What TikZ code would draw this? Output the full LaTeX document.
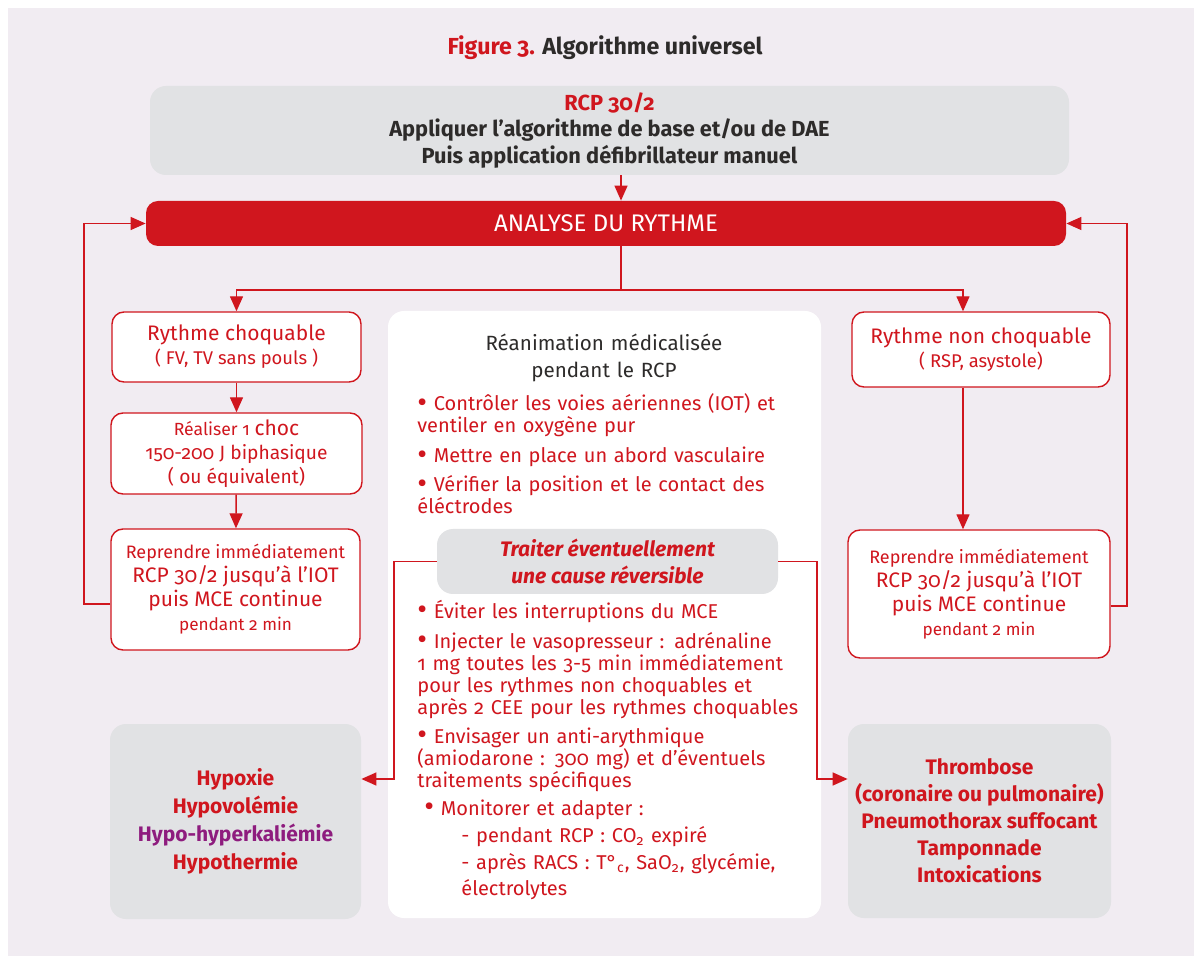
\documentclass[tikz,border=0pt]{standalone}
\usepackage{fontspec}
\setmainfont{Fira Sans}[Numbers=OldStyle]
\definecolor{rcpred}{RGB}{208, 22, 30}
\definecolor{boxgrey}{RGB}{225, 226, 228}
\definecolor{bglav}{RGB}{241, 236, 242}
\definecolor{inkdark}{RGB}{45, 43, 42}
\definecolor{kalpurple}{RGB}{142, 28, 126}
\usepackage{tikz}
\usetikzlibrary{shapes, arrows.meta, positioning, calc}
\newcommand{\rdot}{{\fontsize{15}{11}\selectfont\raisebox{-0.6pt}{•}}}

\tikzset{
  redbox/.style={draw=rcpred, line width=0.7pt, fill=white, rounded corners=6pt, align=center, text=rcpred, inner sep=0pt},
  greybox/.style={fill=boxgrey, rounded corners=8pt, align=center, inner sep=0pt},
  flow/.style={draw=rcpred, line width=0.7pt, -{Triangle[length=7.5pt, width=6.5pt]}},
  link/.style={draw=rcpred, line width=0.7pt},
  bulletpar/.style={anchor=base west, inner sep=0pt, text width=215pt, align=left, text=rcpred, font=\fontsize{10}{11}\selectfont},
}

\begin{document}
\begin{tikzpicture}[x=0.5pt, y=-0.5pt]
  \fill[white] (0,0) rectangle (1194,956);
  \fill[bglav] (8,8) rectangle (1194,956);

  \node (title) at (605,48) {\fontsize{11.6}{13}\selectfont\bfseries\textcolor{rcpred}{Figure 3.} \textcolor{inkdark}{Algorithme universel}};

  \node[greybox, minimum width=459.5pt, minimum height=44.5pt, font=\fontsize{10.9}{13.2}\selectfont\bfseries, text=inkdark] (base) at (609.5,130.5)
    {\textcolor{rcpred}{RCP 30/2}\\Appliquer l’algorithme de base et/ou de DAE\\Puis application défibrillateur manuel};

  \node[fill=rcpred, rounded corners=6pt, inner sep=0pt, minimum width=460pt, minimum height=22.5pt, text=white, font=\fontsize{12}{13}\selectfont] (analyse) at (606,223.5) {ANALYSE DU RYTHME};

  % branches
  \node[redbox, minimum width=124.5pt, minimum height=35pt] (choq) at (236.5,347)
    {\fontsize{10.5}{11}\selectfont Rythme choquable\\\fontsize{9.2}{11}\selectfont ( FV, TV sans pouls )};
  \node[redbox, minimum width=125.5pt, minimum height=40.5pt] (choc) at (236.5,453.5)
    {\fontsize{8.8}{11.5}\selectfont Réaliser 1 \fontsize{10.5}{11.5}\selectfont choc\\\fontsize{9.6}{11.5}\selectfont 150-200 J biphasique\\\fontsize{9.6}{11.5}\selectfont ( ou équivalent)};
  \node[redbox, minimum width=124.5pt, minimum height=60.5pt] (reprL) at (235.5,589.5)
    {\fontsize{9}{12.5}\selectfont Reprendre immédiatement\\\fontsize{10.5}{13}\selectfont RCP 30/2 jusqu’à l’IOT\\\fontsize{10.5}{13}\selectfont puis MCE continue\\\fontsize{8.6}{12}\selectfont pendant 2 min};

  \node[redbox, minimum width=129pt, minimum height=37.5pt] (nonchoq) at (981,349.5)
    {\fontsize{10.5}{11.5}\selectfont Rythme non choquable\\\fontsize{9.2}{11.5}\selectfont ( RSP, asystole)};
  \node[redbox, minimum width=131pt, minimum height=64pt] (reprR) at (979,594)
    {\fontsize{9}{12.5}\selectfont Reprendre immédiatement\\\fontsize{10.5}{13}\selectfont RCP 30/2 jusqu’à l’IOT\\\fontsize{10.5}{13}\selectfont puis MCE continue\\\fontsize{8.6}{12}\selectfont pendant 2 min};

  % medicalised resuscitation
  \node[fill=white, rounded corners=8pt, minimum width=216.5pt, minimum height=303.5pt, inner sep=0pt] (medic) at (604.5,614.5) {};
  \node[anchor=base, inner sep=0pt, align=center, text width=200pt, text=inkdark, font=\fontsize{10.3}{13.5}\selectfont] (medtitle) at (604,351)
    {Réanimation médicalisée\\pendant le RCP};
  \node[bulletpar] (airway) at (417,411) {\rdot{} Contrôler les voies aériennes (IOT) et\\ventiler en oxygène pur};
  \node[bulletpar] (access) at (417,463) {\rdot{} Mettre en place un abord vasculaire};
  \node[bulletpar] (electr) at (417,492) {\rdot{} Vérifier la position et le contact des\\éléctrodes};
  \node[bulletpar] (nopause) at (417,618) {\rdot{} Éviter les interruptions du MCE};
  \node[bulletpar] (adren) at (417,648) {\rdot{} Injecter le vasopresseur : adrénaline\\1 mg toutes les 3-5 min immédiatement\\pour les rythmes non choquables et\\après 2 CEE pour les rythmes choquables};
  \node[bulletpar] (amio) at (417,743) {\rdot{} Envisager un anti-arythmique\\(amiodarone : 300 mg) et d’éventuels\\traitements spécifiques};
  \node[bulletpar] (monit) at (424,815) {\rdot{} Monitorer et adapter :};
  \node[bulletpar, font=\fontsize{10}{13}\selectfont] (during) at (461,842) {- pendant RCP : CO\textsubscript{2} expiré};
  \node[bulletpar, font=\fontsize{10}{13}\selectfont] (after) at (461,869) {- après RACS : T°\textsubscript{c}, SaO\textsubscript{2}, glycémie,\\électrolytes};

  \node[greybox, minimum width=170.5pt, minimum height=32.5pt, text=rcpred, font=\fontsize{10.5}{13.5}\selectfont\bfseries\itshape] (cause) at (607.5,561.5)
    {Traiter éventuellement\\une cause réversible};

  % reversible causes
  \node[greybox, minimum width=125.5pt, minimum height=97.5pt, text=rcpred, font=\fontsize{10.5}{14}\selectfont\bfseries] (hypo) at (235.5,821.5)
    {Hypoxie\\Hypovolémie\\\textcolor{kalpurple}{Hypo-hyperkaliémie}\\Hypothermie};
  \node[greybox, minimum width=131.5pt, minimum height=97pt, text=rcpred, font=\fontsize{10.5}{13.5}\selectfont\bfseries] (thrombo) at (979.5,821)
    {Thrombose\\(coronaire ou pulmonaire)\\Pneumothorax suffocant\\Tamponnade\\Intoxications};

  % connectors
  \coordinate (split) at (621,290);
  \coordinate (nc) at (963,0);
  \coordinate (fbL) at (84,604);
  \coordinate (fbR) at (1127,606);
  \coordinate (cl) at (394,779);
  \coordinate (cr) at (817,779);
  \draw[flow] (base.south -| split) -- (analyse.north -| split);
  \draw[link] (analyse.south -| split) -- (split);
  \draw[flow] (split) -| (choq.north);
  \draw[flow] (split) -| (nonchoq.north -| nc);
  \draw[flow] (choq) -- (choc);
  \draw[flow] (choc) -- (reprL);
  \draw[flow] (nonchoq.south -| nc) -- (reprR.north -| nc);
  \draw[flow] (reprL.west |- fbL) -- (fbL) |- (analyse.west);
  \draw[flow] (reprR.east |- fbR) -- (fbR) |- (analyse.east);
  \draw[flow] (cause.west) -| (cl) -- (hypo.east |- cl);
  \draw[flow] (cause.east) -| (cr) -- (thrombo.west |- cr);
\end{tikzpicture}
\end{document}
